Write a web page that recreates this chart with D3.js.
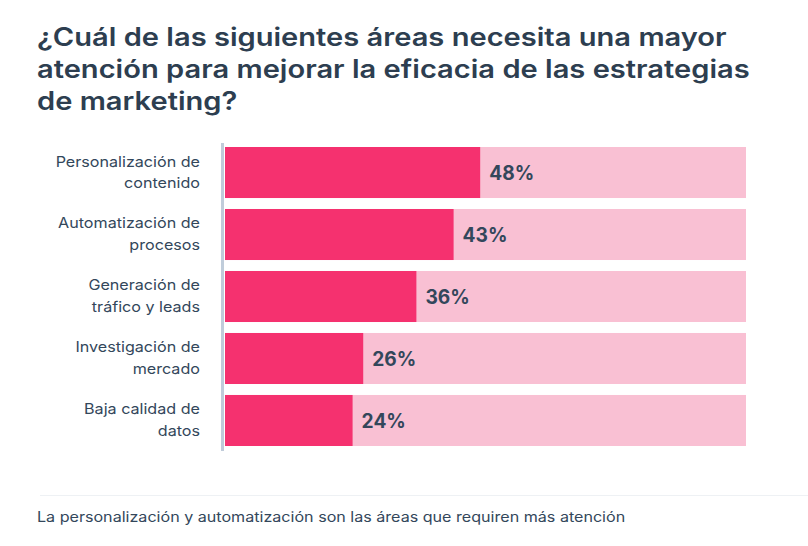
<!DOCTYPE html>
<html><head><meta charset="utf-8">
<script src="https://cdn.jsdelivr.net/npm/d3@7"></script>
<style>body{margin:0;background:#fff;}svg{display:block;}</style>
</head><body>
<svg id="c" width="808" height="546"></svg>
<script>
const titleLines = ["¿Cuál de las siguientes áreas necesita una mayor","atención para mejorar la eficacia de las estrategias","de marketing?"];
const categories = [["Personalización de","contenido"],["Automatización de","procesos"],["Generación de","tráfico y leads"],["Investigación de","mercado"],["Baja calidad de","datos"]];
const values = [48,43,36,26,24];
const axisMax = 98;
const footer = "La personalización y automatización son las áreas que requiren más atención";

const svg = d3.select("#c");
const textColor = "#2d3e50";
const font = "Inter, 'Noto Sans', sans-serif";

// horizontal stretch so a sample text reaches the target width (reference font is wider)
function stretch(sel, sampleNode, target, anchorX){
  const k = target / sampleNode.getComputedTextLength();
  sel.attr("transform", `translate(${anchorX},0) scale(${k},1) translate(${-anchorX},0)`);
}

const title = svg.append("g").selectAll("text").data(titleLines).join("text")
  .attr("x",37).attr("y",(d,i)=>46+i*32)
  .attr("font-family",font).attr("font-weight",600).attr("font-size",25)
  .attr("fill",textColor).text(d=>d);
stretch(title, title.nodes()[0], 690, 37);

const x = d3.scaleLinear().domain([0,axisMax]).range([225,746]);
const y = d3.scaleBand().domain(d3.range(categories.length)).range([147,446]).paddingInner(0.177).paddingOuter(0);

const g = svg.append("g");
g.selectAll("rect.bg").data(values).join("rect").attr("class","bg")
  .attr("x",x(0)).attr("y",(d,i)=>y(i)).attr("width",x(axisMax)-x(0)).attr("height",y.bandwidth())
  .attr("fill","#f9c0d3");
g.selectAll("rect.fg").data(values).join("rect").attr("class","fg")
  .attr("x",x(0)).attr("y",(d,i)=>y(i)).attr("width",d=>x(d)-x(0)).attr("height",y.bandwidth())
  .attr("fill","#f5316f");
const vals = g.selectAll("text.v").data(values).join("text").attr("class","v")
  .attr("x",d=>x(d)+9).attr("y",(d,i)=>y(i)+y.bandwidth()/2).attr("dy","0.36em")
  .attr("font-family",font).attr("font-weight",700).attr("font-size",19.5)
  .attr("fill","#33475b").text(d=>d+"%");
const kv = 45 / vals.nodes()[0].getComputedTextLength();
vals.attr("transform", d => { const ax = x(d)+9; return `translate(${ax},0) scale(${kv},1) translate(${-ax},0)`; });

const lab = svg.append("g").selectAll("text").data(categories).join("text")
  .attr("text-anchor","end").attr("font-family",font).attr("font-size",14.5).attr("fill","#33475b");
lab.each(function(d,i){
  const cy = y(i)+y.bandwidth()/2;
  d3.select(this).selectAll("tspan").data(d).join("tspan")
    .attr("x",200).attr("y",(t,j)=>cy-6+j*22).text(t=>t);
});
stretch(lab, lab.nodes()[1].querySelector("tspan"), 142, 200);

svg.append("line").attr("x1",222.5).attr("x2",222.5).attr("y1",143).attr("y2",451)
  .attr("stroke","#c0ccda").attr("stroke-width",3);

svg.append("line").attr("x1",40).attr("x2",808).attr("y1",495.5).attr("y2",495.5)
  .attr("stroke","#eef1f4").attr("stroke-width",1);
const ft = svg.append("text").attr("x",37).attr("y",522).attr("font-family",font).attr("font-size",14)
  .attr("fill","#33475b").text(footer);
stretch(ft, ft.node(), 589, 37);
</script>
</body></html>
